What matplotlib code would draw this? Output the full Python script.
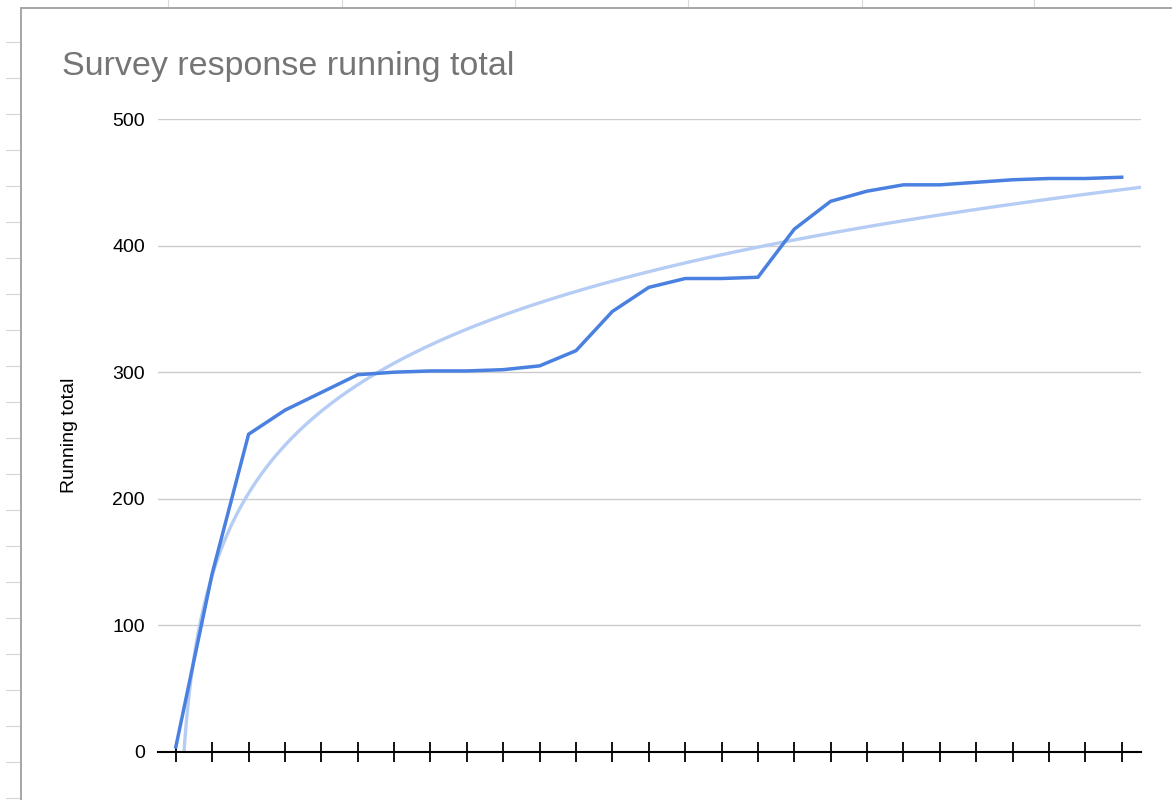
import numpy as np
import matplotlib.pyplot as plt
from matplotlib.lines import Line2D

# ---------------------------------------------------------------
# data
# ---------------------------------------------------------------
TITLE = "Survey response running total"
Y_LABEL = "Running total"

running_total = [4, 141, 251, 270, 284, 298, 300, 301, 301, 302, 305, 317, 348, 367,
                 374, 374, 375, 413, 435, 443, 448, 448, 450, 452, 453, 453, 454]
y_ticks = [0, 100, 200, 300, 400, 500]

W, H = 1172, 800
plt.rcParams['font.family'] = ['Liberation Sans', 'DejaVu Sans']

fig = plt.figure(figsize=(W / 100, H / 100), dpi=100)
fig.patch.set_facecolor('white')


def px_line(x0, y0, x1, y1, color, lw):
    # line in screen pixels (origin top-left)
    fig.add_artist(Line2D([x0 / W, x1 / W], [1 - y0 / H, 1 - y1 / H],
                          transform=fig.transFigure, color=color, lw=lw))


# spreadsheet cells behind the chart
for cx in [168, 342, 515, 688, 862, 1034]:
    px_line(cx, 0, cx, 7, '#dadada', 0.8)
for k in range(1, 23):
    ry = 5.7 + 36 * k
    px_line(6, ry, 20, ry, '#d6d6d6', 0.8)
# chart border
px_line(20.5, 7.5, W, 7.5, '#a6a6a6', 1.4)
px_line(20.5, 7.5, 20.5, H, '#a6a6a6', 1.4)

# ---------------------------------------------------------------
# plot area
# ---------------------------------------------------------------
x = np.arange(len(running_total))
y = np.array(running_total, dtype=float)

ax = fig.add_axes([158 / W, 1 - 752 / H, (1141 - 158) / W, (752 - 119) / H])
ax.set_facecolor('none')

x_left, x_right = -0.49, 26.53
ax.set_xlim(x_left, x_right)
ax.set_ylim(0, 500)

ax.yaxis.grid(True, color='#cccccc', lw=1.0)
ax.set_axisbelow(True)

# logarithmic trendline
a, b = np.polyfit(np.log(x[1:]), y[1:], 1)
xt = np.linspace(0.02, x_right, 600)
ax.plot(xt, a * np.log(xt) + b, color='#b5ccf4', lw=2.4, zorder=2, solid_capstyle='butt')

ax.plot(x, y, color='#4a80e0', lw=2.5, zorder=3, solid_joinstyle='miter')

for s in ['top', 'right', 'left']:
    ax.spines[s].set_visible(False)
ax.spines['bottom'].set_color('black')
ax.spines['bottom'].set_linewidth(1.5)
ax.spines['bottom'].set_zorder(4)

ax.set_xticks(x)
ax.set_xticklabels([])
ax.tick_params(axis='x', direction='inout', length=14.5, width=1.3, color='black')

ax.set_yticks(y_ticks)
ax.set_yticklabels([str(t) for t in y_ticks])
ax.tick_params(axis='y', length=0, pad=9.5, labelsize=14, labelcolor='black')

fig.text(62 / W, 1 - 66 / H, TITLE, fontsize=24.5, color='#757575',
         ha='left', va='center')
fig.text(70 / W, 1 - 435 / H, Y_LABEL, fontsize=14, color='black',
         rotation=90, ha='center', va='center')

fig.savefig('out.png', dpi=100, facecolor='white')
